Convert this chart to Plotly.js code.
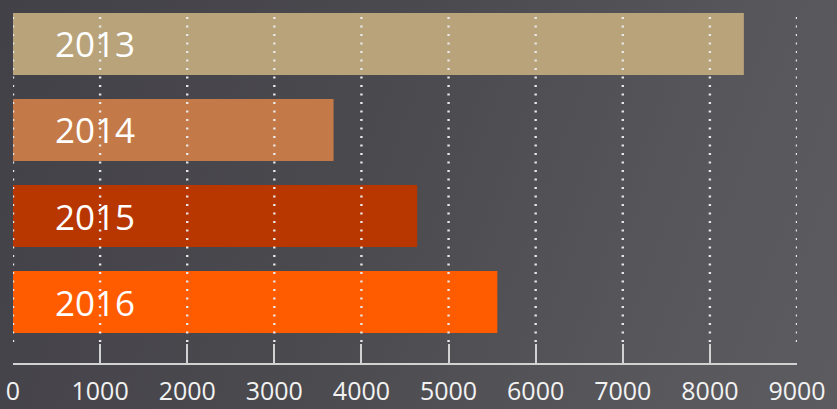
<!DOCTYPE html>
<html>
<head>
<meta charset="utf-8">
<script src="https://cdn.plot.ly/plotly-3.0.1.min.js"></script>
<style>
  html, body { margin: 0; padding: 0; }
  body {
    width: 837px; height: 409px; overflow: hidden;
    background: linear-gradient(110deg, #434148 0%, #4b4a4f 45%, #58575c 80%, #5c5b5f 100%);
  }
  #chart { width: 837px; height: 409px; }
</style>
</head>
<body>
<div id="chart"></div>
<script>
// Data
const years = ['2013', '2014', '2015', '2016'];
const values = [8390, 3680, 4640, 5560];
const barColors = ['#b8a37b', '#c47a48', '#b83700', '#ff5c00'];
const tickValues = [0, 1000, 2000, 3000, 4000, 5000, 6000, 7000, 8000, 9000];
const tickLabels = ['0', '1000', '2000', '3000', '4000', '5000', '6000', '7000', '8000', '9000'];

const trace = {
  type: 'bar',
  orientation: 'h',
  x: values,
  y: years,
  marker: { color: barColors, line: { width: 0 } },
  hoverinfo: 'none'
};

const gridShapes = tickValues.map(v => ({
  type: 'line',
  xref: 'x', yref: 'paper',
  x0: v, x1: v, y0: 0.06, y1: 1,
  layer: 'above',
  line: { color: '#e8e8e8', width: 2.4, dash: '2px,6.5px' }
}));

const labelAnnotations = years.map((y, i) => ({
  x: 0, y: i, xref: 'x', yref: 'y',
  text: y, showarrow: false,
  xanchor: 'left', yanchor: 'middle',
  xshift: 40, yshift: 0,
  font: { family: 'Open Sans, sans-serif', size: 35, color: '#ffffff' }
}));

const layout = {
  width: 837, height: 409,
  margin: { l: 13, r: 40, t: 13, b: 46, pad: 0 },
  paper_bgcolor: 'rgba(0,0,0,0)',
  plot_bgcolor: 'rgba(0,0,0,0)',
  bargap: 0.28,
  showlegend: false,
  xaxis: {
    range: [0, 9000],
    tickvals: tickValues,
    ticktext: tickLabels,
    showgrid: false,
    zeroline: false,
    showline: true,
    linecolor: '#d2d2d2',
    linewidth: 2,
    ticks: 'inside',
    ticklen: 19,
    tickwidth: 2,
    tickcolor: '#d2d2d2',
    ticklabelstandoff: 5,
    tickfont: { family: 'Open Sans, sans-serif', size: 25, color: '#f2f2f2' },
    fixedrange: true
  },
  yaxis: {
    type: 'category',
    categoryorder: 'array',
    categoryarray: years,
    range: [3.709, -0.36],
    showticklabels: false,
    showgrid: false,
    zeroline: false,
    showline: false,
    ticks: '',
    fixedrange: true
  },
  shapes: gridShapes,
  annotations: labelAnnotations
};

Plotly.newPlot('chart', [trace], layout, { displayModeBar: false, staticPlot: true });
</script>
</body>
</html>
